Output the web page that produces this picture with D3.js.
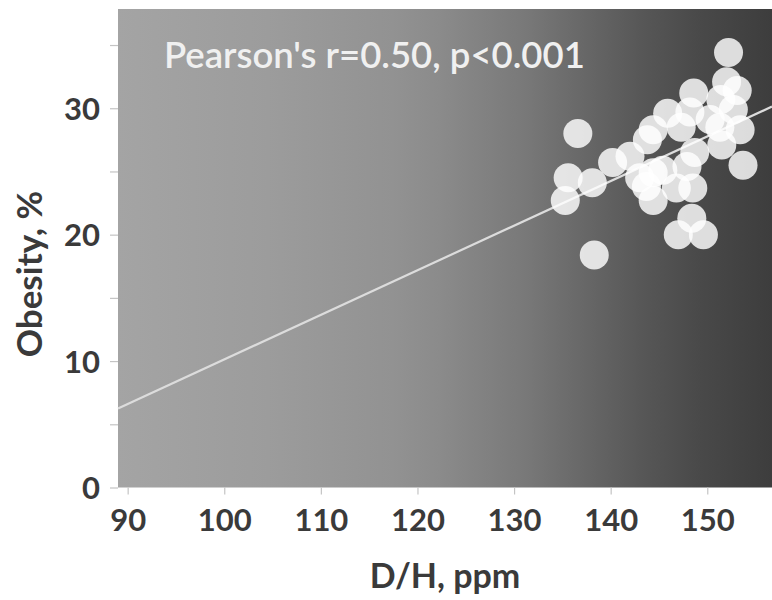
<!DOCTYPE html>
<html>
<head>
<meta charset="utf-8">
<script src="https://cdn.jsdelivr.net/npm/d3@7"></script>
<style>
  html, body { margin: 0; padding: 0; background: #ffffff; }
  svg { display: block; }
  .tick text { font-family: Lato, "Open Sans", sans-serif; font-weight: 700; fill: #3a3a3a; }
</style>
</head>
<body>
<svg id="chart" width="772" height="600"></svg>
<script>
// D/H ratio in ppm against adult obesity prevalence (%)
const dh = [135.6, 138.1, 135.3, 136.6, 138.3, 140.2, 142.0, 143.0, 143.8, 144.4,
            145.9, 148.2, 148.6, 147.3, 145.4, 147.9, 148.5, 144.4, 143.7, 148.4,
            147.0, 149.6, 148.7, 146.8, 152.2, 152.0, 153.1, 151.4, 152.7, 151.3,
            153.4, 151.5, 153.7, 150.3, 144.4];
const obesity = [24.5, 24.1, 22.7, 28.0, 18.4, 25.7, 26.2, 24.5, 27.5, 28.3,
                 29.6, 29.7, 31.2, 28.5, 25.1, 25.4, 23.7, 22.7, 23.8, 21.3,
                 20.0, 20.0, 26.5, 23.7, 34.4, 32.1, 31.4, 30.7, 29.9, 28.5,
                 28.3, 27.1, 25.5, 29.1, 24.9];

// Least-squares line reported with the correlation
const fitIntercept = -25.14;
const fitSlope = 0.3527;
const statText = "Pearson's r=0.50, p<0.001";

const xTicks = [90, 100, 110, 120, 130, 140, 150];
const yTicks = [0, 5, 10, 15, 20, 25, 30, 35];
const yLabelled = [0, 10, 20, 30];

const xTitle = "D/H, ppm";
const yTitle = "Obesity, %";

const svg = d3.select("#chart");
const plotLeft = 118, plotRight = 772, plotTop = 9, plotBottom = 487.5;

const x = d3.scaleLinear().domain([89.0, 156.7]).range([plotLeft, plotRight]);
const y = d3.scaleLinear().domain([0, 37.85]).range([plotBottom, plotTop]);

// Horizontal grey shading of the plotting area
const grad = svg.append("defs").append("linearGradient")
  .attr("id", "bg").attr("x1", "0%").attr("x2", "100%").attr("y1", "0%").attr("y2", "0%");
[[0, "#a4a4a4"], [0.23, "#9c9c9c"], [0.42, "#929292"], [0.49, "#8b8b8b"],
 [0.62, "#797979"], [0.72, "#666666"], [0.80, "#575757"], [0.89, "#494949"], [1, "#3d3d3d"]]
  .forEach(([o, c]) => grad.append("stop").attr("offset", o).attr("stop-color", c));

svg.append("rect")
  .attr("x", plotLeft).attr("y", plotTop)
  .attr("width", plotRight - plotLeft).attr("height", plotBottom - plotTop)
  .attr("fill", "url(#bg)");

// Axes
const yAxis = d3.axisLeft(y)
  .tickValues(yTicks)
  .tickSize(8)
  .tickPadding(10)
  .tickFormat(d => yLabelled.includes(d) ? d : "");
const gy = svg.append("g").attr("transform", `translate(${plotLeft},0)`).call(yAxis);
gy.select(".domain").remove();
gy.selectAll(".tick line").attr("stroke", "#c4c4c4").attr("stroke-width", 1.2);
gy.selectAll(".tick text").style("font-size", "31px").attr("dy", "0.36em");

const xAxis = d3.axisBottom(x)
  .tickValues(xTicks)
  .tickSize(7)
  .tickPadding(14);
const gx = svg.append("g").attr("transform", `translate(0,${plotBottom})`).call(xAxis);
gx.select(".domain").remove();
gx.selectAll(".tick line").attr("stroke", "#c4c4c4").attr("stroke-width", 1.2);
gx.selectAll(".tick text").style("font-size", "31px");

// Regression line across the whole x range
const [x0, x1] = x.domain();
svg.append("line")
  .attr("x1", x(x0)).attr("y1", y(fitIntercept + fitSlope * x0))
  .attr("x2", x(x1)).attr("y2", y(fitIntercept + fitSlope * x1))
  .attr("stroke", "#dcdcdc").attr("stroke-width", 2.2);

// Points
svg.append("g").selectAll("circle")
  .data(dh.map((d, i) => ({ dh: d, ob: obesity[i] })))
  .join("circle")
  .attr("cx", d => x(d.dh))
  .attr("cy", d => y(d.ob))
  .attr("r", 14.5)
  .attr("fill", "#ffffff")
  .attr("fill-opacity", 0.82);

// Correlation annotation
svg.append("text")
  .attr("x", 164).attr("y", 68)
  .attr("font-family", "Lato, 'Open Sans', sans-serif")
  .attr("font-weight", 600)
  .attr("font-size", 36.5)
  .attr("fill", "#f0f0f0")
  .text(statText);

// Axis titles
svg.append("text")
  .attr("x", (plotLeft + plotRight) / 2).attr("y", 588)
  .attr("text-anchor", "middle")
  .attr("font-family", "Lato, 'Open Sans', sans-serif")
  .attr("font-weight", 700)
  .attr("font-size", 34)
  .attr("fill", "#3a3a3a")
  .text(xTitle);

svg.append("text")
  .attr("transform", `translate(42,274) rotate(-90)`)
  .attr("text-anchor", "middle")
  .attr("font-family", "Lato, 'Open Sans', sans-serif")
  .attr("font-weight", 700)
  .attr("font-size", 35)
  .attr("fill", "#3a3a3a")
  .text(yTitle);
</script>
</body>
</html>
